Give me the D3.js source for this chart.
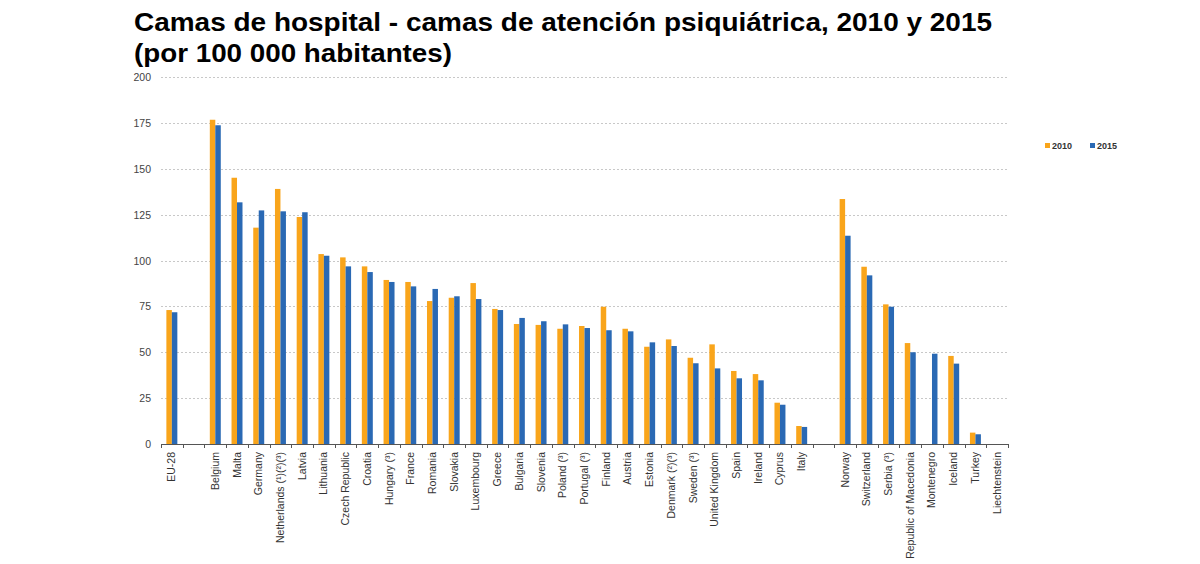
<!DOCTYPE html>
<html>
<head>
<meta charset="utf-8">
<script src="https://cdn.jsdelivr.net/npm/d3@7"></script>
<style>
  body { margin: 0; background: #fff; }
  text { font-family: "Liberation Sans", Arial, sans-serif; }
</style>
</head>
<body>
<svg id="chart" width="1200" height="564"></svg>
<script>
// categories ("" entries are the empty slots between groups)
var countries = ["EU-28", "", "Belgium", "Malta", "Germany", "Netherlands (¹)(²)(³)", "Latvia",
  "Lithuania", "Czech Republic", "Croatia", "Hungary (³)", "France", "Romania", "Slovakia",
  "Luxembourg", "Greece", "Bulgaria", "Slovenia", "Poland (³)", "Portugal (³)", "Finland",
  "Austria", "Estonia", "Denmark (²)(³)", "Sweden (³)", "United Kingdom", "Spain", "Ireland",
  "Cyprus", "Italy", "", "Norway", "Switzerland", "Serbia (³)", "Republic of Macedonia",
  "Montenegro", "Iceland", "Turkey", "Liechtenstein"];

var values2010 = [73.0, null, 176.7, 145.1, 117.9, 139.0, 123.7,
  103.5, 101.7, 96.8, 89.4, 88.3, 77.9, 79.7,
  87.7, 73.6, 65.4, 64.9, 62.8, 64.3, 74.8,
  62.8, 53.0, 57.0, 47.0, 54.3, 39.8, 38.1,
  22.5, 9.8, null, 133.5, 96.6, 76.1, 55.0,
  null, 48.0, 6.2, null];

var values2015 = [71.8, null, 173.7, 131.7, 127.3, 126.8, 126.3,
  102.6, 96.8, 93.7, 88.3, 85.9, 84.5, 80.5,
  79.0, 73.0, 68.7, 66.9, 65.2, 63.2, 62.0,
  61.4, 55.4, 53.4, 44.0, 41.2, 35.8, 34.7,
  21.4, 9.3, null, 113.5, 91.9, 74.8, 50.0,
  49.2, 43.8, 5.3, null];

var seriesNames = ["2010", "2015"];
var yTicks = [0, 25, 50, 75, 100, 125, 150, 175, 200];

var colors = { "2010": "#f9a51b", "2015": "#2a69b4" };

var svg = d3.select("#chart");
var plotLeft = 161, plotRight = 1008, plotTop = 77, plotBottom = 444;

var keys = countries.map((c, i) => i);
var x = d3.scaleBand().domain(keys).range([plotLeft, plotRight]).paddingInner(0).paddingOuter(0);
var x1 = d3.scaleBand().domain(seriesNames).range([0, x.bandwidth()]).paddingOuter(0.98);
var y = d3.scaleLinear().domain([0, 200]).range([plotBottom, plotTop]);

// title
var title = svg.append("text")
    .attr("x", 134)
    .attr("y", 31)
    .attr("font-size", "26px")
    .attr("font-weight", "bold")
    .attr("fill", "#000");
title.append("tspan").attr("x", 134)
    .attr("textLength", 858).attr("lengthAdjust", "spacingAndGlyphs")
    .text("Camas de hospital - camas de atención psiquiátrica, 2010 y 2015");
title.append("tspan").attr("x", 134).attr("dy", 31)
    .attr("textLength", 318).attr("lengthAdjust", "spacingAndGlyphs")
    .text("(por 100 000 habitantes)");

// gridlines
svg.append("g")
  .selectAll("line")
  .data(yTicks.filter(d => d > 0))
  .enter()
    .append("line")
    .attr("x1", plotLeft)
    .attr("x2", plotRight)
    .attr("y1", d => Math.round(y(d)) + 0.5)
    .attr("y2", d => Math.round(y(d)) + 0.5)
    .attr("stroke", "#c8c8c8")
    .attr("stroke-width", 1)
    .attr("stroke-dasharray", "2,2");

// y labels
svg.append("g")
  .selectAll("text")
  .data(yTicks)
  .enter()
    .append("text")
    .attr("x", 151)
    .attr("y", d => y(d) + 4)
    .attr("text-anchor", "end")
    .attr("font-size", "10.5px")
    .attr("fill", "#444")
    .text(d => d);

// bars
var rows = [];
countries.forEach((c, i) => {
    rows.push({ i: i, s: "2010", v: values2010[i] });
    rows.push({ i: i, s: "2015", v: values2015[i] });
});

svg.append("g")
  .selectAll("rect")
  .data(rows.filter(d => d.v !== null))
  .enter()
    .append("rect")
    .attr("x", d => x(d.i) + x1(d.s))
    .attr("width", x1.bandwidth())
    .attr("y", d => y(d.v))
    .attr("height", d => y(0) - y(d.v))
    .attr("fill", d => colors[d.s]);

// x axis line and ticks at slot boundaries
svg.append("line")
    .attr("x1", plotLeft).attr("x2", plotRight)
    .attr("y1", plotBottom + 0.5).attr("y2", plotBottom + 0.5)
    .attr("stroke", "#555")
    .attr("stroke-width", 1);

var bounds = keys.map(k => x(k)).concat([plotRight]);
svg.append("g")
  .selectAll("line")
  .data(bounds)
  .enter()
    .append("line")
    .attr("x1", d => Math.round(d) + 0.5)
    .attr("x2", d => Math.round(d) + 0.5)
    .attr("y1", plotBottom)
    .attr("y2", plotBottom + 4)
    .attr("stroke", "#555");

// x labels
svg.append("g")
  .selectAll("text")
  .data(keys.filter(k => countries[k] !== ""))
  .enter()
    .append("text")
    .attr("transform", k => "translate(" + (x(k) + x.bandwidth() / 2 + 3.5) + "," + (plotBottom + 8) + ") rotate(-90)")
    .attr("text-anchor", "end")
    .attr("font-size", "10.5px")
    .attr("fill", "#333")
    .text(k => countries[k]);

// legend
var legend = svg.append("g");
seriesNames.forEach((s, i) => {
    var lx = 1045 + i * 45;
    legend.append("rect")
        .attr("x", lx)
        .attr("y", 143)
        .attr("width", 5)
        .attr("height", 5)
        .attr("fill", colors[s]);
    legend.append("text")
        .attr("x", lx + 7)
        .attr("y", 149)
        .attr("font-size", "9px")
        .attr("font-weight", "bold")
        .attr("fill", "#333")
        .text(s);
});
</script>
</body>
</html>
